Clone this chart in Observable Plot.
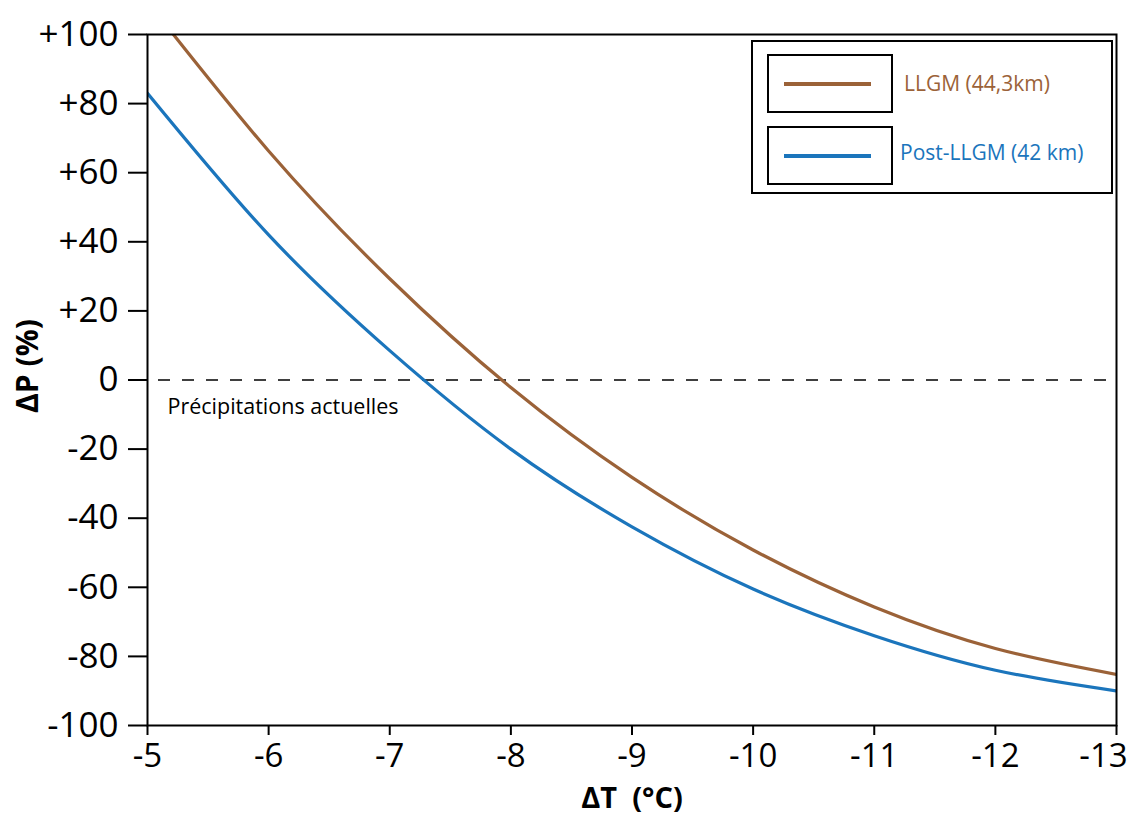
<!DOCTYPE html>
<html><head><meta charset="utf-8">
<script src="https://cdn.jsdelivr.net/npm/d3@7"></script>
<script src="https://cdn.jsdelivr.net/npm/@observablehq/plot@0.6"></script>
<style>
body{margin:0;background:#fff;}
#wrap{position:relative;width:1133px;height:816px;font-family:"Open Sans",sans-serif;overflow:hidden;}
.box{position:absolute;border:2px solid #000;box-sizing:border-box;background:#fff;}
.lg-line{position:absolute;height:4px;}
.lg-text{position:absolute;font-size:21px;line-height:26px;white-space:nowrap;}
.title{position:absolute;font-weight:bold;white-space:nowrap;line-height:1;color:#000;}
</style></head><body><div id="wrap"></div>
<script>
// ΔT (°C) sample points and ΔP (%) values
const deltaT   = [-5, -6, -7, -8, -9, -10, -11, -12, -13];
const llgm     = [109.5, 66.3, 29.3, -2.2, -28.2, -49.2, -65.7, -77.7, -85.2];
const postLlgm = [83, 42, 8.5, -20, -42.5, -60.5, -74, -84, -90];
const yTicks = [100, 80, 60, 40, 20, 0, -20, -40, -60, -80, -100];
const xTicks = [-5, -6, -7, -8, -9, -10, -11, -12, -13];
const seriesNames = ["LLGM (44,3km)", "Post-LLGM (42 km)"];
const seriesColors = ["#9b6238", "#1b75bc"];
const refLabel = "Précipitations actuelles";
const xTitle = "ΔT  (°C)";
const yTitle = "ΔP (%)";

const rows = [];
deltaT.forEach((t, i) => {
  rows.push({t, p: llgm[i], s: seriesNames[0]});
  rows.push({t, p: postLlgm[i], s: seriesNames[1]});
});
const lastX = xTicks[xTicks.length - 1];

const chart = Plot.plot({
  width: 1133, height: 816,
  marginLeft: 147, marginRight: 17, marginTop: 34, marginBottom: 91,
  style: {fontFamily: "'Open Sans', sans-serif", fontSize: "34px", color: "#000", background: "#fff"},
  x: {domain: [-5, -13]},
  y: {domain: [-100, 100]},
  color: {domain: seriesNames, range: seriesColors},
  marks: [
    Plot.ruleY([0], {stroke: "#000", strokeWidth: 1.5, strokeDasharray: "12,12", insetLeft: 11}),
    Plot.line(rows, {x: "t", y: "p", z: "s", stroke: "s", strokeWidth: 3.2, curve: "natural", clip: true}),
    Plot.axisY(yTicks, {tickSize: 19, tickPadding: 10, tickFormat: d => d > 0 ? "+" + d : String(d), label: null, strokeWidth: 2, fontSize: 35}),
    Plot.axisX(xTicks, {tickSize: 10, tickPadding: 8, tickFormat: d => d === lastX ? "" : String(d), label: null, strokeWidth: 2, fontSize: 33}),
    Plot.axisX([lastX], {tickSize: 0, tickPadding: 18, tickFormat: d => String(d), label: null, fontSize: 33, dx: -13}),
    Plot.frame({stroke: "#000", strokeWidth: 2}),
    Plot.text([refLabel], {x: () => -5, y: () => 0, text: d => d, textAnchor: "start", dx: 20, dy: 27, fontSize: 21.5, fill: "#000"})
  ]
});
const wrap = document.getElementById("wrap");
wrap.appendChild(chart);

// axis titles
const xt = document.createElement("div");
xt.className = "title";
Object.assign(xt.style, {left: "632px", top: "782px", transform: "translateX(-50%)", fontSize: "29px", whiteSpace: "pre"});
xt.textContent = xTitle;
wrap.appendChild(xt);

const yt = document.createElement("div");
yt.className = "title";
Object.assign(yt.style, {left: "27px", top: "366px", transform: "translate(-50%,-50%) rotate(-90deg)", fontSize: "30px"});
yt.textContent = yTitle;
wrap.appendChild(yt);

// legend
function div(cls, css, txt) { const d = document.createElement("div"); d.className = cls; Object.assign(d.style, css); if (txt) d.textContent = txt; wrap.appendChild(d); return d; }
div("box", {left: "751px", top: "40px", width: "362px", height: "154px"});
const rowsTop = [54, 126];
seriesNames.forEach((name, i) => {
  const top = rowsTop[i];
  div("box", {left: "767px", top: top + "px", width: "126px", height: "59px"});
  div("lg-line", {left: "784px", top: (top + 28) + "px", width: "87px", background: seriesColors[i]});
  div("lg-text", {left: (i === 0 ? 904 : 900) + "px", top: (top + (i === 0 ? 16 : 13)) + "px", color: seriesColors[i]}, name);
});
</script>
</body></html>
